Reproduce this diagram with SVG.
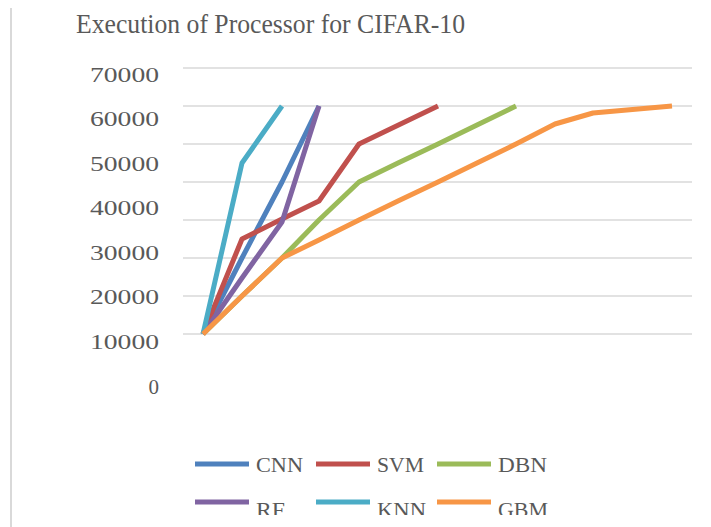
<svg xmlns="http://www.w3.org/2000/svg" width="711" height="527" viewBox="0 0 711 527">
  <defs>
    <style>
      .grid { stroke: #d9d9d9; stroke-width: 1.5; }
      .lbl { font-family: "Liberation Serif", "Times New Roman", serif; fill: #595959; }
      .ax { font-size: 21px; text-anchor: end; }
      .leg { font-size: 21px; }
      .s { fill: none; stroke-width: 5; stroke-linejoin: round; stroke-linecap: butt; }
      .cnn { stroke: #4F81BD; }
      .svm { stroke: #C0504D; }
      .dbn { stroke: #9BBB59; }
      .rf  { stroke: #8064A2; }
      .knn { stroke: #4BACC6; }
      .gbm { stroke: #F79646; }
    </style>
    <clipPath id="legendClip">
      <rect x="0" y="440" width="711" height="75"/>
    </clipPath>
  </defs>

  <rect width="711" height="527" fill="#ffffff"/>
  <!-- chart frame edge -->
  <line x1="11" y1="8" x2="11" y2="527" stroke="#d9d9d9" stroke-width="2"/>

  <g id="title">
    <text class="lbl" x="76" y="33" font-size="28" textLength="389" lengthAdjust="spacingAndGlyphs">Execution of Processor for CIFAR-10</text>
  </g>

  <g id="gridlines">
    <line class="grid" x1="183" y1="68" x2="692" y2="68"/>
    <line class="grid" x1="183" y1="106" x2="692" y2="106"/>
    <line class="grid" x1="183" y1="144" x2="692" y2="144"/>
    <line class="grid" x1="183" y1="182" x2="692" y2="182"/>
    <line class="grid" x1="183" y1="220" x2="692" y2="220"/>
    <line class="grid" x1="183" y1="258" x2="692" y2="258"/>
    <line class="grid" x1="183" y1="296" x2="692" y2="296"/>
    <line class="grid" x1="183" y1="334" x2="692" y2="334"/>
  </g>

  <g id="y-axis">
    <text class="lbl ax" x="159" y="82" textLength="69" lengthAdjust="spacingAndGlyphs">70000</text>
    <text class="lbl ax" x="159" y="126" textLength="69" lengthAdjust="spacingAndGlyphs">60000</text>
    <text class="lbl ax" x="159" y="171" textLength="69" lengthAdjust="spacingAndGlyphs">50000</text>
    <text class="lbl ax" x="159" y="215" textLength="69" lengthAdjust="spacingAndGlyphs">40000</text>
    <text class="lbl ax" x="159" y="260" textLength="69" lengthAdjust="spacingAndGlyphs">30000</text>
    <text class="lbl ax" x="159" y="304" textLength="69" lengthAdjust="spacingAndGlyphs">20000</text>
    <text class="lbl ax" x="159" y="349" textLength="69" lengthAdjust="spacingAndGlyphs">10000</text>
    <text class="lbl ax" x="159" y="394">0</text>
  </g>

  <!-- series drawn in legend order, later ones on top -->
  <g id="series">
    <polyline id="s-cnn" class="s cnn" points="203,334 242,258 282,182 319,106"/>
    <polyline id="s-svm" class="s svm" points="203,334 242,239 282,219 319,201 359,144 438,106"/>
    <polyline id="s-dbn" class="s dbn" points="203,334 242,296 282,258 319,220 359,182 398,163 438,144 477,125 516,106"/>
    <polyline id="s-rf" class="s rf" points="203,334 242,278 282,222 319,106"/>
    <polyline id="s-knn" class="s knn" points="203,334 242,163 282,106"/>
    <polyline id="s-gbm" class="s gbm" points="203,334 242,296 282,258 319,240 359,220 398,201 438,182 477,163 516,144 555,124 593,113 672,106"/>
  </g>

  <g id="legend" clip-path="url(#legendClip)">
    <g id="leg-cnn">
      <line class="s cnn" x1="195" y1="464" x2="249" y2="464"/>
      <text class="lbl leg" x="256" y="472" textLength="47" lengthAdjust="spacingAndGlyphs">CNN</text>
    </g>
    <g id="leg-svm">
      <line class="s svm" x1="316" y1="464" x2="370" y2="464"/>
      <text class="lbl leg" x="377" y="472" textLength="47" lengthAdjust="spacingAndGlyphs">SVM</text>
    </g>
    <g id="leg-dbn">
      <line class="s dbn" x1="437" y1="464" x2="491" y2="464"/>
      <text class="lbl leg" x="498" y="472" textLength="49" lengthAdjust="spacingAndGlyphs">DBN</text>
    </g>
    <g id="leg-rf">
      <line class="s rf" x1="195" y1="502" x2="249" y2="502"/>
      <text class="lbl leg" x="256" y="517" textLength="29" lengthAdjust="spacingAndGlyphs">RF</text>
    </g>
    <g id="leg-knn">
      <line class="s knn" x1="316" y1="502" x2="370" y2="502"/>
      <text class="lbl leg" x="377" y="517" textLength="49" lengthAdjust="spacingAndGlyphs">KNN</text>
    </g>
    <g id="leg-gbm">
      <line class="s gbm" x1="437" y1="502" x2="491" y2="502"/>
      <text class="lbl leg" x="498" y="517" textLength="50" lengthAdjust="spacingAndGlyphs">GBM</text>
    </g>
  </g>
</svg>
